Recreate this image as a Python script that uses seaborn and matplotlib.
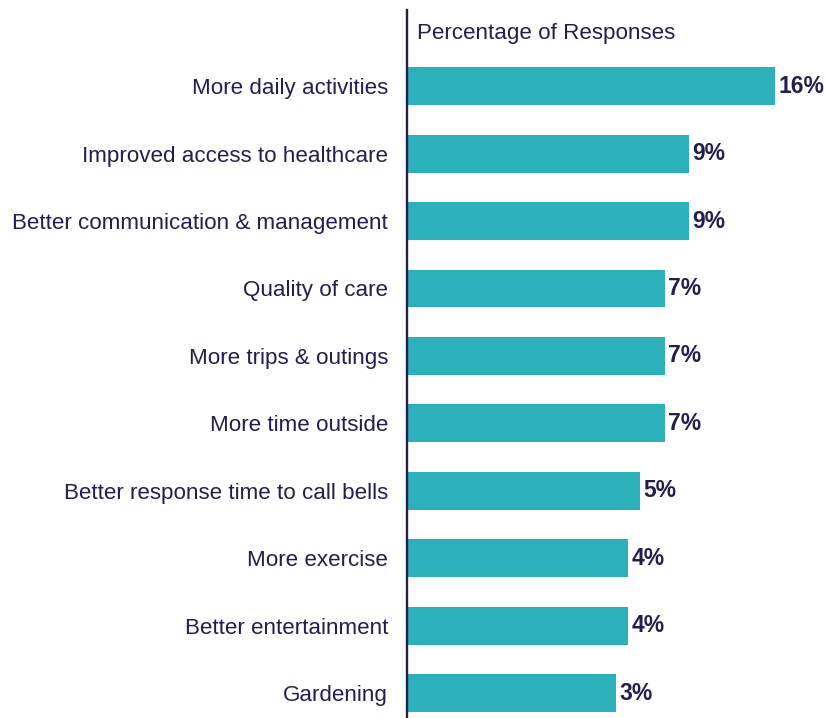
import matplotlib
matplotlib.use("Agg")
import matplotlib.pyplot as plt
import seaborn as sns
import pandas as pd

# Survey responses: suggested improvements
categories = [
    "More daily activities",
    "Improved access to healthcare",
    "Better communication & management",
    "Quality of care",
    "More trips & outings",
    "More time outside",
    "Better response time to call bells",
    "More exercise",
    "Better entertainment",
    "Gardening",
]
percentages = [16, 9, 9, 7, 7, 7, 5, 4, 4, 3]
axis_title = "Percentage of Responses"

NAVY = "#221E4F"
TEAL = "#2CB0BA"
FONT = ["Liberation Sans", "DejaVu Sans"]
FS = 16.1

sns.set_style("white")
plt.rcParams["font.family"] = FONT

df = pd.DataFrame({"category": categories, "pct": percentages})

fig = plt.figure(figsize=(8.27, 7.18), dpi=100)
ax = fig.add_axes([407 / 827, 0.0, 1 - 407 / 827, 1 - 10 / 718])

sns.barplot(data=df, x="pct", y="category", orient="h", color=TEAL,
            width=0.56, saturation=1, ax=ax)

# bars grow from the axis minimum, as in the value axis of the source
x_min, x_max = -14.06, 20.28
ax.set_xlim(x_min, x_max)
ax.set_ylim(9.37, -1.13)
for patch, v in zip(ax.patches, percentages):
    patch.set_x(x_min)
    patch.set_width(v - x_min)
    patch.set_edgecolor("none")

for i, v in enumerate(percentages):
    ax.annotate(f"{v}%", xy=(v, i), xytext=(2.5, 0), textcoords="offset points",
                ha="left", va="center", fontsize=FS + 0.4, fontweight="bold",
                color=NAVY, family=FONT)

ax.set_xlabel("")
ax.set_ylabel("")
ax.set_xticks([])
ax.tick_params(axis="y", length=0, pad=13.7, labelsize=FS, labelcolor=NAVY)
for lbl in ax.get_yticklabels():
    lbl.set_family(FONT)

for side in ["top", "right", "bottom"]:
    ax.spines[side].set_visible(False)
ax.spines["left"].set_color(NAVY)
ax.spines["left"].set_linewidth(1.7)

fig.text(417 / 827, 1 - 33 / 718, axis_title, ha="left", va="center",
         fontsize=FS, color=NAVY, family=FONT)

fig.savefig("out.png", dpi=100, facecolor="white")
